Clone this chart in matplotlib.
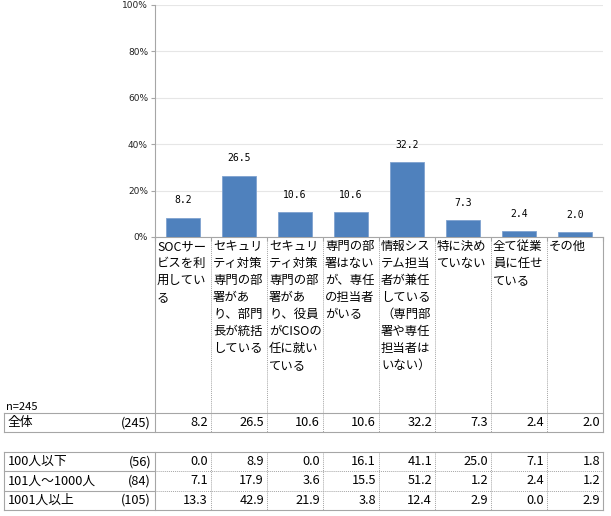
import matplotlib
matplotlib.use("Agg")
import matplotlib.pyplot as plt

plt.rcParams['font.family'] = ['Noto Sans CJK JP', 'DejaVu Sans']

categories = [
    "SOCサー\nビスを利\n用してい\nる",
    "セキュリ\nティ対策\n専門の部\n署があ\nり、部門\n長が統括\nしている",
    "セキュリ\nティ対策\n専門の部\n署があ\nり、役員\nがCISOの\n任に就い\nている",
    "専門の部\n署はない\nが、専任\nの担当者\nがいる",
    "情報シス\nテム担当\n者が兼任\nしている\n（専門部\n署や専任\n担当者は\nいない）",
    "特に決め\nていない",
    "全て従業\n員に任せ\nている",
    "その他",
]
total_values = [8.2, 26.5, 10.6, 10.6, 32.2, 7.3, 2.4, 2.0]
total_label = "全体"
total_n = "(245)"
n_text = "n=245"
group_labels = ["100人以下", "101人～1000人", "1001人以上"]
group_n = ["(56)", "(84)", "(105)"]
group_values = [
    [0.0, 8.9, 0.0, 16.1, 41.1, 25.0, 7.1, 1.8],
    [7.1, 17.9, 3.6, 15.5, 51.2, 1.2, 2.4, 1.2],
    [13.3, 42.9, 21.9, 3.8, 12.4, 2.9, 0.0, 2.9],
]
yticks = [0, 20, 40, 60, 80, 100]
ytick_labels = ["0%", "20%", "40%", "60%", "80%", "100%"]

W, H = 611, 516
fig = plt.figure(figsize=(W / 100, H / 100), dpi=100)

# layout (pixels)
TL = 4       # table left
C0 = 155     # first data column left
CW = 56      # column width
R = 603      # right edge
AX_TOP, AX_BOT = 5, 237
LAB_BOT = 413
ROW_H = 19.3
T2_TOP = 452

line_col = "#a6a6a6"
bar_col = "#4f81bd"

# overlay axes in pixel coordinates
ov = fig.add_axes([0, 0, 1, 1])
ov.set_xlim(0, W)
ov.set_ylim(H, 0)
ov.axis("off")

# bar axes
ax = fig.add_axes([C0 / W, 1 - AX_BOT / H, (R - C0) / W, (AX_BOT - AX_TOP) / H])
ax.patch.set_alpha(0)
n = len(categories)
xs = list(range(n))
ax.bar(xs, total_values, width=0.62, color=bar_col, edgecolor="#7fa2cf", linewidth=0.6, zorder=3)
ax.set_xlim(-0.5, n - 0.5)
ax.set_ylim(0, 100)
ax.set_yticks(yticks)
ax.set_yticklabels(ytick_labels, fontsize=6.5, family=['DejaVu Sans'])
ax.grid(axis="y", color="#e6e6e6", linewidth=0.8, zorder=0)
ax.set_xticks([i - 0.5 for i in range(n + 1)])
ax.set_xticklabels([])
ax.tick_params(axis="x", length=3, color=line_col, direction="out")
ax.tick_params(axis="y", length=3, color=line_col, direction="out", pad=2, labelcolor="#222222")
for s in ["top", "right"]:
    ax.spines[s].set_visible(False)
for s in ["left", "bottom"]:
    ax.spines[s].set_color(line_col)
    ax.spines[s].set_linewidth(0.8)
for x, v in zip(xs, total_values):
    ax.annotate(f"{v:.1f}", (x, v), xytext=(0, 9), textcoords="offset points",
                ha="center", va="bottom", fontsize=7, family=['DejaVu Sans Mono'])

# category label area
for i, lab in enumerate(categories):
    ov.text(C0 + i * CW + 2, AX_BOT + 3, lab, ha="left", va="top", fontsize=8.9, linespacing=1.4)
for i in range(1, n):
    xb = C0 + i * CW
    ov.plot([xb, xb], [AX_BOT, LAB_BOT], color=line_col, lw=0.7, ls=(0, (1, 1)))
ov.plot([C0, C0], [AX_BOT, LAB_BOT + ROW_H], color=line_col, lw=0.8)
ov.plot([R, R], [AX_BOT, LAB_BOT + ROW_H], color=line_col, lw=0.8)

ov.text(TL + 2, LAB_BOT - 6, n_text, ha="left", va="center", fontsize=8)

def draw_row(y0, label, nn, vals):
    yc = y0 + ROW_H / 2
    ov.text(TL + 4, yc, label, ha="left", va="center", fontsize=9.2)
    ov.text(C0 - 4, yc, nn, ha="right", va="center", fontsize=9.2)
    for i, v in enumerate(vals):
        ov.text(C0 + (i + 1) * CW - 3, yc, f"{v:.1f}", ha="right", va="center", fontsize=9.2)

# total row
y0 = LAB_BOT
ov.plot([TL, R], [y0, y0], color=line_col, lw=0.8)
ov.plot([TL, R], [y0 + ROW_H, y0 + ROW_H], color=line_col, lw=0.8)
ov.plot([TL, TL], [y0, y0 + ROW_H], color=line_col, lw=0.8)
for i in range(1, n):
    xb = C0 + i * CW
    ov.plot([xb, xb], [y0, y0 + ROW_H], color=line_col, lw=0.7, ls=(0, (1, 1)))
draw_row(y0, total_label, total_n, total_values)

# group table
y_bot = T2_TOP + ROW_H * len(group_labels)
ov.plot([TL, R], [T2_TOP, T2_TOP], color=line_col, lw=0.8)
ov.plot([TL, R], [y_bot, y_bot], color=line_col, lw=0.8)
for x in [TL, C0, R]:
    ov.plot([x, x], [T2_TOP, y_bot], color=line_col, lw=0.8)
for i in range(1, n):
    xb = C0 + i * CW
    ov.plot([xb, xb], [T2_TOP, y_bot], color=line_col, lw=0.7, ls=(0, (1, 1)))
for k in range(1, len(group_labels)):
    yy = T2_TOP + k * ROW_H
    ov.plot([TL, C0], [yy, yy], color=line_col, lw=0.8)
    ov.plot([C0, R], [yy, yy], color=line_col, lw=0.7, ls=(0, (1, 1)))
for k, (lab, nn, vals) in enumerate(zip(group_labels, group_n, group_values)):
    draw_row(T2_TOP + k * ROW_H, lab, nn, vals)

fig.savefig("out.png", dpi=100)
